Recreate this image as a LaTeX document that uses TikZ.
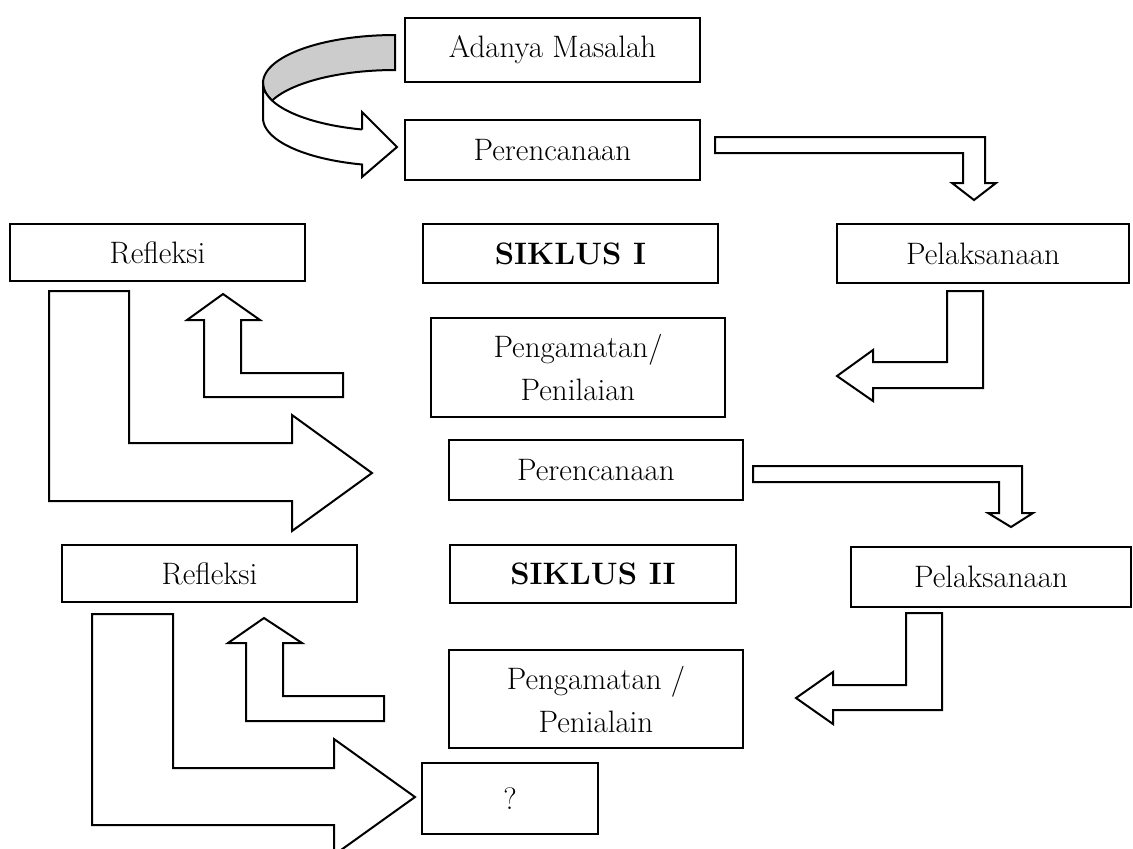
\documentclass[tikz,border=0pt]{standalone}
\usepackage{tikz}

\tikzset{
  box/.style={draw, line width=0.8pt, inner sep=0pt, align=center,
    font=\fontsize{15.5}{21.5}\selectfont},
  blockarrow/.style={draw, fill=white, line width=1pt, line join=miter},
  backside/.style={draw, fill=black!20, line width=1pt}
}

\begin{document}
\begin{tikzpicture}[x=0.5pt, y=-0.5pt]
        \useasboundingbox (0,0) rectangle (1133,848);
        \clip (0,0) rectangle (1133,848);

        % Siklus I boxes
        \node[box, minimum width=147.5pt, minimum height=32pt] (masalah) at (552.5,50) {Adanya Masalah};
        \node[box, minimum width=147.5pt, minimum height=30pt] (renc1) at (552.5,150) {Perencanaan};
        \node[box, minimum width=147.5pt, minimum height=28.5pt] (refl1) at (157.5,252.5) {Refleksi};
        \node[box, minimum width=147.5pt, minimum height=29.5pt] (siklus1) at (570.5,253.5) {\textbf{SIKLUS I}};
        \node[box, minimum width=146pt, minimum height=29.5pt] (pelak1) at (983,253.5) {Pelaksanaan};
        \node[box, minimum width=147pt, minimum height=49.5pt] (amat1) at (578,367.5) {Pengamatan/\\Penilaian};

        % Siklus II boxes
        \node[box, minimum width=147pt, minimum height=30pt] (renc2) at (596,470) {Perencanaan};
        \node[box, minimum width=147.5pt, minimum height=28.5pt] (refl2) at (209.5,573.5) {Refleksi};
        \node[box, minimum width=143pt, minimum height=29pt] (siklus2) at (593,574) {\textbf{SIKLUS II}};
        \node[box, minimum width=140pt, minimum height=30pt] (pelak2) at (991,577) {Pelaksanaan};
        \node[box, minimum width=147pt, minimum height=49pt] (amat2) at (596,699) {Pengamatan /\\Penialain};
        \node[box, minimum width=88pt, minimum height=35.5pt] (tanya) at (510,798.5) {?};

        % Curved arrow: masalah -> renc1
        \draw[backside] (395,35)
          -- plot[domain=270:180, samples=40] ({395+132*cos(\x)},{83+48*sin(\x)})
          -- plot[domain=180:158.6, samples=10] ({395+132*cos(\x)},{83+48*sin(\x)})
          -- plot[domain=201.4:270, samples=30] ({395+132*cos(\x)},{118+48*sin(\x)})
          -- cycle;
        \draw[blockarrow] (263,83) -- (263,118)
          -- plot[domain=180:104.48, samples=40] ({395+132*cos(\x)},{118+48*sin(\x)})
          -- (362,177) -- (397,147) -- (362,112) -- (362,129.5)
          -- plot[domain=104.48:180, samples=40] ({395+132*cos(\x)},{83+48*sin(\x)})
          -- cycle;

        % renc1 -> pelak1
        \draw[blockarrow] (715,137) -- (985,137) -- (985,183) -- (996,183) -- (974,200)
          -- (952,183) -- (963,183) -- (963,153) -- (715,153) -- cycle;
        % pelak1 -> amat1
        \draw[blockarrow] (947,291) -- (983,291) -- (983,388) -- (873,388) -- (873,401)
          -- (837,376) -- (873,350) -- (873,362) -- (947,362) -- cycle;
        % amat1 -> refl1
        \draw[blockarrow] (204,320) -- (204,397) -- (343,397) -- (343,373) -- (241,373)
          -- (241,320) -- (260,320) -- (223,294) -- (187,320) -- cycle;
        % refl1 -> renc2
        \draw[blockarrow] (49,291) -- (129,291) -- (129,443) -- (292,443) -- (292,415)
          -- (372,473) -- (292,531) -- (292,501) -- (49,501) -- cycle;

        % renc2 -> pelak2
        \draw[blockarrow] (753,466) -- (1022,466) -- (1022,513) -- (1033,513) -- (1011,527)
          -- (988,513) -- (999,513) -- (999,482) -- (753,482) -- cycle;
        % pelak2 -> amat2
        \draw[blockarrow] (906,613) -- (942,613) -- (942,710) -- (833,710) -- (833,724)
          -- (796,698) -- (833,672) -- (833,685) -- (906,685) -- cycle;
        % amat2 -> refl2
        \draw[blockarrow] (246,643) -- (246,721) -- (384,721) -- (384,696) -- (283,696)
          -- (283,643) -- (302,643) -- (264,618) -- (228,643) -- cycle;
        % refl2 -> tanya
        \draw[blockarrow] (92,614) -- (173,614) -- (173,768) -- (334,768) -- (334,739)
          -- (415,797) -- (334,855) -- (334,825) -- (92,825) -- cycle;
    \end{tikzpicture}
\end{document}
